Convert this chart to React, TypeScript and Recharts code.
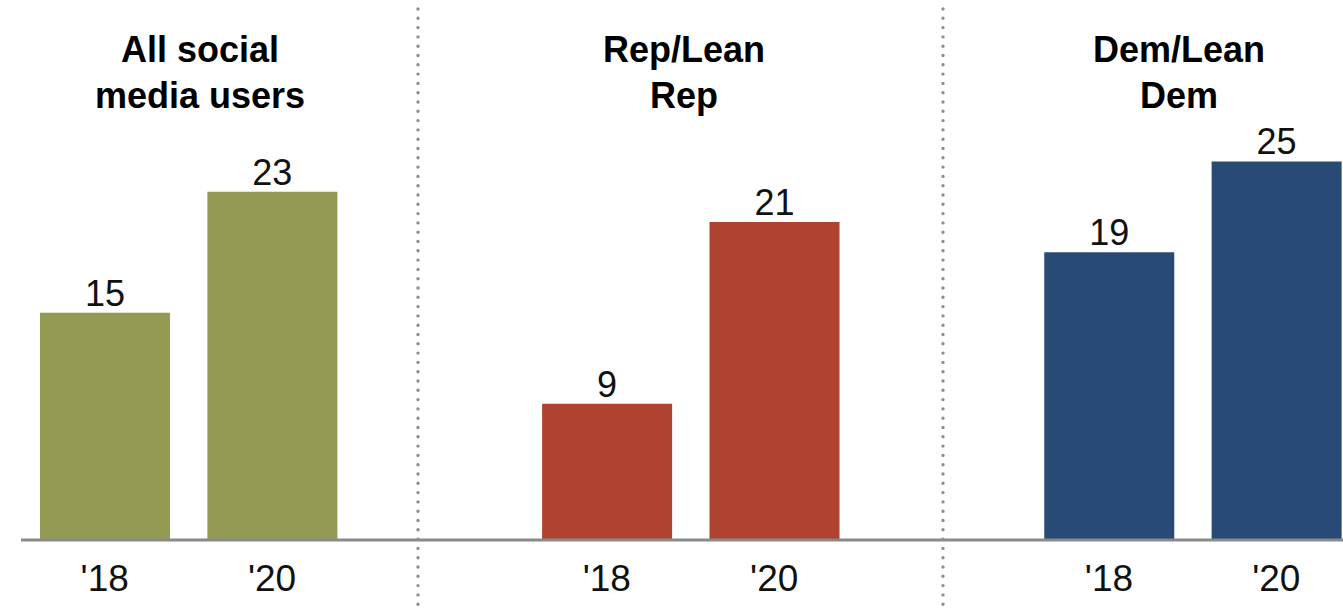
import { Bar, BarChart, Cell, LabelList, XAxis, YAxis } from 'recharts'

const groupTitles = [
  ['All social', 'media users'],
  ['Rep/Lean', 'Rep'],
  ['Dem/Lean', 'Dem'],
]
const years = ["'18", "'20"]
const allUsers = [15, 23]
const repLean = [9, 21]
const demLean = [19, 25]
const groupColors = ['#959a52', '#af4330', '#2a4a76']

interface Row {
  key: string
  year: string
  value: number | null
  color: string
}

const seriesByGroup = [allUsers, repLean, demLean]
const rows: Row[] = []
seriesByGroup.forEach((vals, g) => {
  if (g > 0) rows.push({ key: `gap${g}`, year: '', value: null, color: 'none' })
  vals.forEach((v, i) => {
    rows.push({ key: `g${g}-${i}`, year: years[i], value: v, color: groupColors[g] })
  })
})

const yearByKey = Object.fromEntries(rows.map((r) => [r.key, r.year]))

// decoration only: panel titles and dotted dividers
const titleX = [200, 684, 1179]
const dividerX = [418, 943]

const font = '"Liberation Sans", Arial, sans-serif'

export default function App() {
  return (
    <div
      style={{
        position: 'absolute',
        left: 0,
        top: 0,
        width: 1343,
        height: 608,
        overflow: 'hidden',
        background: '#fff',
        fontFamily: font,
      }}
    >
      <BarChart
        width={1360}
        height={608}
        data={rows}
        margin={{ top: 10, right: 0, left: 21, bottom: 0 }}
      >
        <XAxis
          dataKey="key"
          height={68}
          interval={0}
          tickLine={false}
          tickSize={0}
          tickMargin={25}
          axisLine={{ stroke: '#8a8a8a', strokeWidth: 3 }}
          tick={{ fontSize: 37, fill: '#111', fontFamily: font }}
          tickFormatter={(k: string) => yearByKey[k] ?? ''}
        />
        <YAxis hide domain={[0, 35]} />
        <Bar dataKey="value" barSize={130} isAnimationActive={false}>
          {rows.map((r) => (
            <Cell key={r.key} fill={r.color} />
          ))}
          <LabelList
            dataKey="value"
            position="top"
            offset={7}
            fill="#111"
            fontSize={36}
            fontFamily={font}
            formatter={(v: unknown) => (v == null ? '' : String(v))}
          />
        </Bar>
      </BarChart>
      <svg
        width={1343}
        height={608}
        style={{ position: 'absolute', left: 0, top: 0, pointerEvents: 'none' }}
      >
        {dividerX.map((x) => (
          <line
            key={x}
            x1={x}
            x2={x}
            y1={9}
            y2={608}
            stroke="#8e8e8e"
            strokeWidth={3.4}
            strokeLinecap="round"
            strokeDasharray="0 9.3"
          />
        ))}
        {groupTitles.map((lines, i) => (
          <text
            key={i}
            x={titleX[i]}
            textAnchor="middle"
            fontFamily={font}
            fontWeight="bold"
            fontSize={36}
            fill="#000"
          >
            <tspan x={titleX[i]} y={62}>
              {lines[0]}
            </tspan>
            <tspan x={titleX[i]} y={108}>
              {lines[1]}
            </tspan>
          </text>
        ))}
      </svg>
    </div>
  )
}
